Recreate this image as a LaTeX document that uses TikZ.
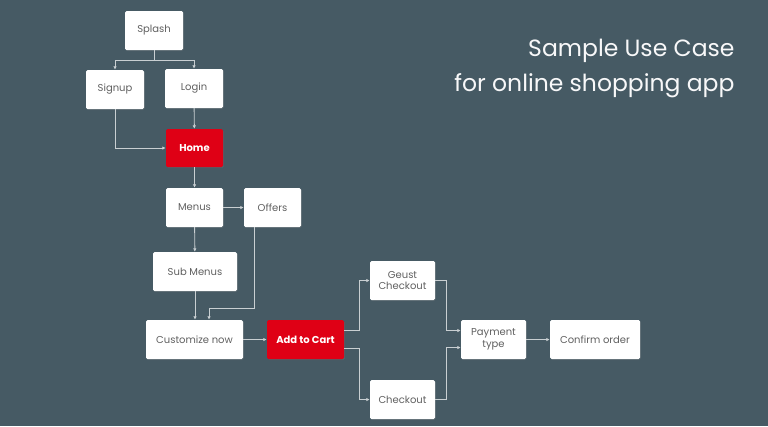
\documentclass[tikz,border=0pt]{standalone}
\usepackage{fontspec}
\setmainfont{Poppins}
\usetikzlibrary{arrows.meta,shadows}
\definecolor{slate}{HTML}{465A64}
\definecolor{cartred}{HTML}{DF0015}
\definecolor{wire}{HTML}{C9CFD2}
\definecolor{label}{HTML}{606060}

\begin{document}
\begin{tikzpicture}[x=1pt, y=-1pt,
    every node/.style={font=\fontsize{10}{11.5}\selectfont},
    box/.style={fill=white, text=label, rounded corners=1.5pt, inner sep=2pt,
      minimum width=58pt, minimum height=39pt, align=center,
      drop shadow={opacity=0.2, shadow xshift=0.8pt, shadow yshift=-1pt}},
    redbox/.style={box, fill=cartred, text=white, font=\fontsize{10}{11.5}\selectfont\bfseries},
    link/.style={draw=wire, line width=0.9pt, -{Latex[length=3.5pt,width=3.5pt]}}]
    \fill[slate] (0,0) rectangle (768,426);
    \useasboundingbox (0,0) rectangle (768,426);
    \node[box] (splash) at (154,30.5) {Splash};
    \node[box] (signup) at (115,89.5) {Signup};
    \node[box] (login) at (194,88.5) {Login};
    \node[redbox, minimum width=57pt, minimum height=38pt] (home) at (194.5,148) {Home};
    \node[box, minimum width=57pt] (menus) at (194.5,207.5) {Menus};
    \node[box, minimum width=57pt] (offers) at (272.5,207.5) {Offers};
    \node[box, minimum width=84pt] (submenus) at (195,271.5) {Sub Menus};
    \node[box, minimum width=97pt] (customize) at (194.5,339.5) {Customize now};
    \node[redbox, minimum width=77pt] (cart) at (305.5,339.5) {Add to Cart};
    \node[box, minimum width=65pt] (geust) at (402.5,280.5) {Geust\\Checkout};
    \node[box, minimum width=65pt] (checkout) at (402.5,399.5) {Checkout};
    \node[box, minimum width=65pt] (payment) at (493.5,339.5) {Payment\\type};
    \node[box, minimum width=90pt] (confirm) at (595,339.5) {Confirm order};
    \node[anchor=base east, text=white!96!slate, font=\fontsize{23.5}{28}\selectfont] (title) at (738,56) {Sample Use Case};
    \node[anchor=base east, text=white!96!slate, font=\fontsize{23.5}{28}\selectfont] (subtitle) at (738,91) {for online shopping app};
    % top part
    \draw[link] (splash.south) -- ++(0,10) -| (signup.north);
    \draw[link] (splash.south) -- ++(0,10) -| (login.north);
    \draw[link] (signup.south) |- (home.west);
    \draw[link] (login) -- (home);
    \draw[link] (home) -- (menus);
    \draw[link] (menus) -- (offers);
    \draw[link] (menus) -- (submenus);
    \draw[link] (submenus.south) -- (submenus.south |- customize.north);
    \draw[link] ([xshift=-18.5pt]offers.south) -- ++(0,81) -| ([xshift=14.5pt]customize.north);
    % checkout part
    \draw[link] (customize) -- (cart);
    \draw[link] ([yshift=9pt]cart.east) -- ++(15,0) |- (geust.west);
    \draw[link] ([yshift=-9pt]cart.east) -- ++(15,0) |- (checkout.west);
    \draw[link] (geust.east) -- ++(11,0) |- ([yshift=9pt]payment.west);
    \draw[link] (checkout.east) -- ++(11,0) |- ([yshift=-8pt]payment.west);
    \draw[link] (payment) -- (confirm);
\end{tikzpicture}
\end{document}
